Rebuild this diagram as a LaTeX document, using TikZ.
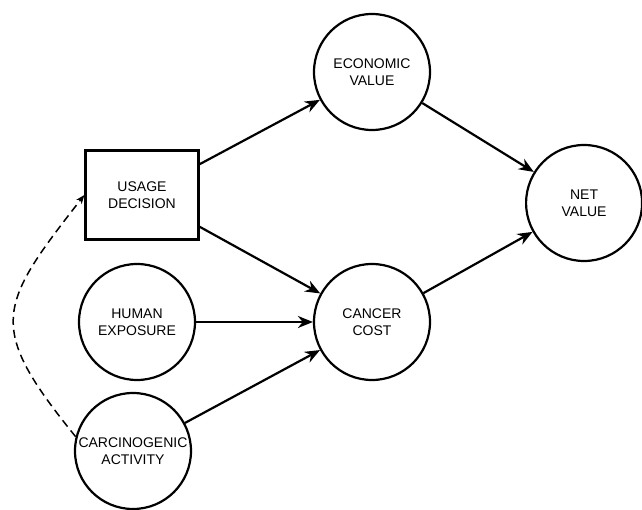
\documentclass[tikz,border=0pt]{standalone}
\usepackage{fontspec}
\setmainfont{Liberation Sans}
\usetikzlibrary{graphs, arrows.meta}

\tikzset{
    chance/.style={draw=black, circle, minimum size=116pt, inner sep=0pt, align=center},
    decision/.style={draw=black, rectangle, minimum width=113pt, minimum height=89pt, inner sep=0pt, align=center},
    feedback/.style={line width=1.5pt, dash pattern=on 8pt off 5pt, -{Stealth[length=9pt,width=7pt]}},
}

\begin{document}
\begin{tikzpicture}[font=\fontsize{14}{17}\selectfont, line width=2.2pt, >={Stealth[length=15pt,width=12pt]}]
        \matrix[row sep={125pt,between origins},column sep={235pt,between origins}]{
            &
            \node[chance] (econ) {ECONOMIC\\VALUE} ; \\
            \node[decision,xshift=5pt,yshift=2pt] (usage) {USAGE\\DECISION} ; &
            &[-82pt]
            \node[chance,yshift=-6pt] (net) {NET\\VALUE} ; \\
            \node[chance] (human) {HUMAN\\EXPOSURE} ; &
            \node[chance] (cancer) {CANCER\\COST} ; \\[4pt]
            \node[chance,xshift=-4pt] (carc) {CARCINOGENIC\\ACTIVITY} ; \\
        } ;

        \graph[use existing nodes] {
            usage -> econ;
            usage -> cancer;
            human -> cancer;
            carc -> cancer;
            econ -> net;
            cancer -> net;
        } ;

        % dashed feedback from activity back to the decision
        \draw[feedback] (carc.166) to[out=129,in=232,looseness=1.5] (usage.west);

        \pgfresetboundingbox
        \useasboundingbox (econ.center) ++(-372pt,72pt) rectangle ++(642pt,-510pt);
    \end{tikzpicture}
\end{document}
